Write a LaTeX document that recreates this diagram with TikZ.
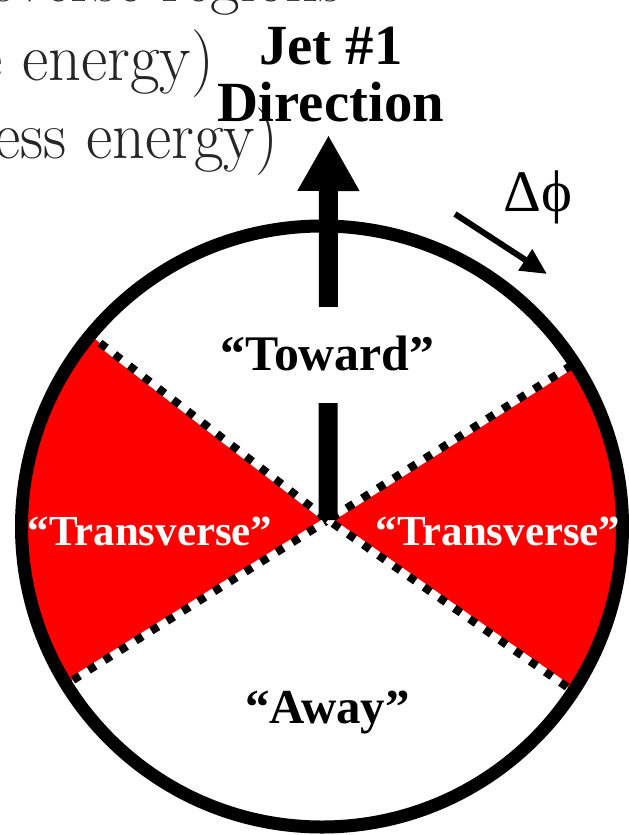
\documentclass[tikz,border=0pt]{standalone}
\usepackage{fontspec}
\newfontfamily\jetrm{Liberation Serif}
\usetikzlibrary{arrows.meta, calc}

\begin{document}
\begin{tikzpicture}[x=1bp, y=-1bp,
    every node/.style={inner sep=0pt},
    bg/.style={text=black!85, font=\fontsize{68}{68}\selectfont, anchor=base east},
    lbl/.style={font=\jetrm\bfseries\fontsize{#1}{#1}\selectfont, anchor=base},
    tr/.style={lbl=43, text=white},
    raybase/.style={white, line width=7bp},
    raydash/.style={black, line width=8bp, dash pattern=on 8bp off 10.5bp},
    jet/.style={-{Triangle[length=56bp, width=58bp]}, line width=19bp},
    a/.style={-{Triangle[length=26bp, width=24bp]}, line width=6bp}
]
\useasboundingbox (0,0) rectangle (629,835);
\clip (0,0) rectangle (629,835);
% slide text behind the picture
\node[bg] (l1) at (342,1)   {\scalebox{0.95}[1]{Transverse regions}};
\node[bg] (l2) at (214,80)  {\scalebox{0.95}[1]{(more energy)}};
\node[bg] (l3) at (278,158) {\scalebox{0.95}[1]{(less energy)}};
% regions
\coordinate (O)  at (328,520);
\coordinate (ul) at (100,343);
\coordinate (ll) at (73,680);
\coordinate (ur) at (572,365);
\coordinate (lr) at (567,687);
\node[circle, minimum size=601bp] (ring) at (322,526.5) {};
\begin{scope}
  \clip (ring.center) circle (300.5);
  \fill[red] (O) -- ($(O)!2!(ul)$) -- ($(O)!2!(ll)$) -- cycle;
  \fill[red] (O) -- ($(O)!2!(ur)$) -- ($(O)!2!(lr)$) -- cycle;
\end{scope}
\foreach \p in {ul,ll,ur,lr} {
  \draw[raybase] (\p) -- (O);
  \draw[raydash] (\p) -- (O);
}
\draw[line width=13bp] (ring.center) circle (300.5);
% jet #1
\coordinate (jettip) at (328.5,135);
\draw[jet] (O) -- (jettip);
\node[lbl=57, align=center, anchor=south] (jetlbl) at (331,122) {Jet \#1\\Direction};
\node[lbl=50, fill=white, text height=63bp, text depth=33bp, inner xsep=3bp] (toward) at (327.5,370) {“Toward”};
\node[tr] (trl) at (150,545) {“Transverse”};
\node[tr] (trr) at (498,545) {“Transverse”};
\node[lbl=49] (away) at (327.5,723) {“Away”};
% delta phi
\coordinate (d0) at (455,214);
\coordinate (d1) at (547,274);
\draw[a] (d0) -- (d1);
\node[font=\jetrm\fontsize{59}{59}\selectfont, anchor=base] (dphi) at (538,211) {Δϕ};
\end{tikzpicture}
\end{document}
